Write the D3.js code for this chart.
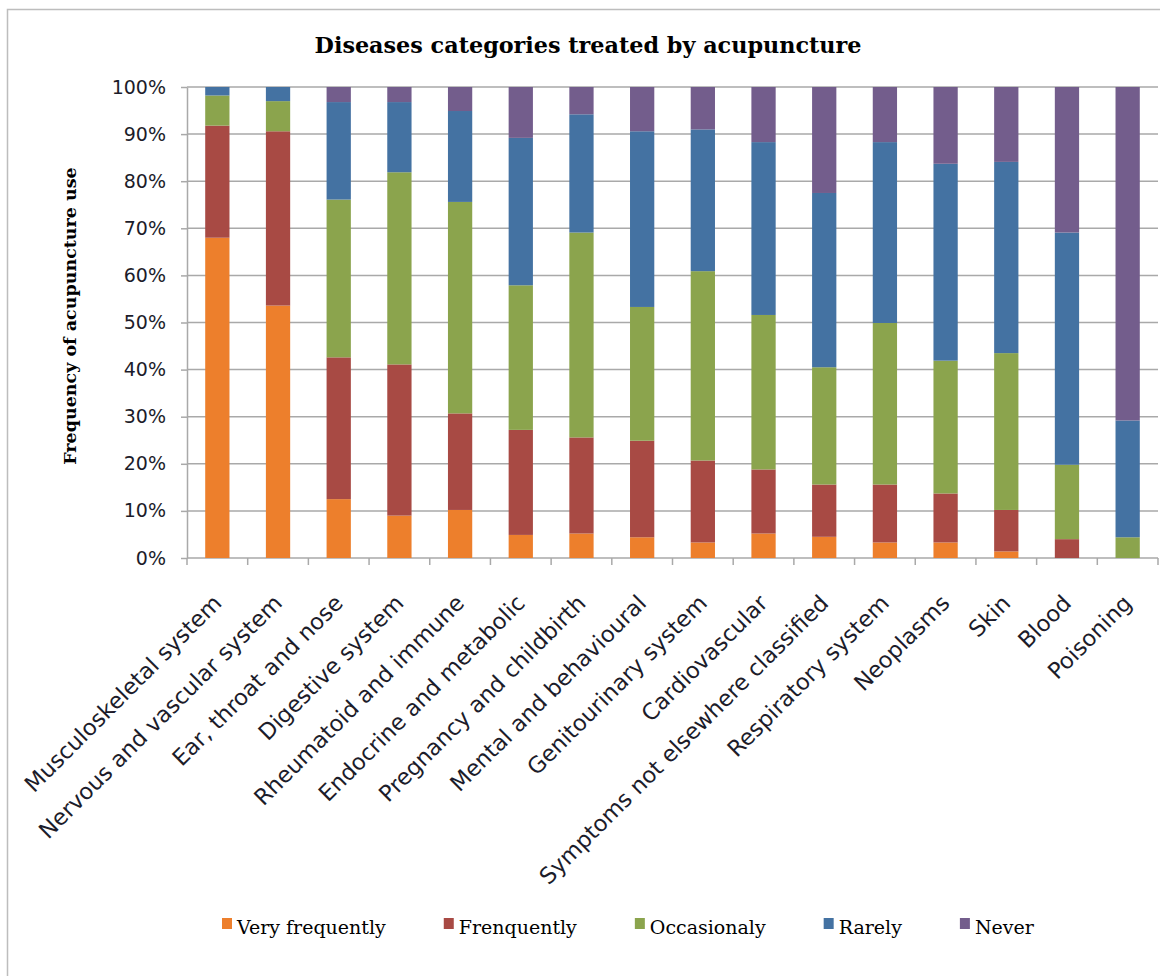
<!DOCTYPE html>
<html>
<head>
<meta charset="utf-8">
<script src="https://cdn.jsdelivr.net/npm/d3@7"></script>
<style>
  body { margin: 0; background: #fff; }
  svg { display: block; }
</style>
</head>
<body>
<div id="chart"></div>
<script>
var svgWidth = 1160;
var svgHeight = 976;

var margin = {
  top: 87,
  right: 2,
  bottom: 418,
  left: 187
};

var width = svgWidth - margin.left - margin.right;
var height = svgHeight - margin.top - margin.bottom;

// Data (percent of respondents per category)
var categories = [
  "Musculoskeletal system", "Nervous and vascular system", "Ear, throat and nose",
  "Digestive system", "Rheumatoid and immune", "Endocrine and metabolic",
  "Pregnancy and childbirth", "Mental and behavioural", "Genitourinary system",
  "Cardiovascular", "Symptoms not elsewhere classified", "Respiratory system",
  "Neoplasms", "Skin", "Blood", "Poisoning"
];
var seriesNames = ["Very frequently", "Frenquently", "Occasionaly", "Rarely", "Never"];
var veryFrequently = [68, 53.6, 12.5, 9, 10.2, 4.9, 5.2, 4.4, 3.3, 5.2, 4.5, 3.3, 3.3, 1.4, 0, 0];
var frequently     = [23.8, 37, 30.1, 32.1, 20.5, 22.3, 20.4, 20.5, 17.4, 13.6, 11.1, 12.3, 10.4, 8.8, 4, 0];
var occasionaly    = [6.4, 6.4, 33.5, 40.8, 44.9, 30.7, 43.5, 28.4, 40.2, 32.8, 24.9, 34.3, 28.2, 33.3, 15.8, 4.4];
var rarely         = [1.8, 3, 20.7, 14.9, 19.3, 31.3, 25.1, 37.3, 30.1, 36.7, 37, 38.4, 41.8, 40.6, 49.3, 24.8];
var never          = [0, 0, 3.2, 3.2, 5.1, 10.8, 5.8, 9.4, 9.0, 11.7, 22.5, 11.7, 16.3, 15.9, 30.9, 70.8];
var yTicks = [0, 10, 20, 30, 40, 50, 60, 70, 80, 90, 100];

var colors = ["#ED7F2C", "#A84A44", "#8BA44D", "#4472A2", "#735D8C"];

// rows for d3.stack
var seriesValues = [veryFrequently, frequently, occasionaly, rarely, never];
var rows = categories.map(function(c, i) {
  var row = { category: c };
  seriesNames.forEach(function(s, j) { row[s] = seriesValues[j][i]; });
  return row;
});

var svg = d3.select("#chart")
  .append("svg")
  .attr("width", svgWidth)
  .attr("height", svgHeight);

// outer chart frame
svg.append("rect")
  .attr("x", 7.5)
  .attr("y", 9.5)
  .attr("width", 1200)
  .attr("height", 1000)
  .attr("fill", "none")
  .attr("stroke", "#bdbdbd")
  .attr("stroke-width", 1.5);

var chartGroup = svg.append("g")
  .attr("transform", `translate(${margin.left}, ${margin.top})`);

// Scales
var xScale = d3.scaleBand()
  .domain(categories)
  .range([0, width])
  .paddingInner(0.6)
  .paddingOuter(0.3);

var yScale = d3.scaleLinear()
  .domain([0, 100])
  .range([height, 0]);

// Gridlines
chartGroup.append("g")
  .selectAll("line")
  .data(yTicks)
  .enter()
  .append("line")
  .attr("x1", 0)
  .attr("x2", width)
  .attr("y1", d => yScale(d))
  .attr("y2", d => yScale(d))
  .attr("stroke", "#a9a9a9")
  .attr("stroke-width", 1.5);

// Bars
var stack = d3.stack().keys(seriesNames);
var stacked = stack(rows);

chartGroup.selectAll(".series")
  .data(stacked)
  .enter()
  .append("g")
  .attr("class", "series")
  .attr("fill", (d, i) => colors[i])
  .selectAll("rect")
  .data(d => d)
  .enter()
  .append("rect")
  .attr("x", d => xScale(d.data.category))
  .attr("width", xScale.bandwidth())
  .attr("y", d => yScale(d[1]))
  .attr("height", d => yScale(d[0]) - yScale(d[1]));

// Y axis
var yAxis = d3.axisLeft(yScale)
  .tickValues(yTicks)
  .tickFormat(d => d + "%")
  .tickSize(6)
  .tickSizeOuter(0)
  .tickPadding(15);

var yAxisG = chartGroup.append("g").call(yAxis);
yAxisG.select(".domain").attr("stroke", "#a9a9a9").attr("stroke-width", 1.5);
yAxisG.selectAll(".tick line").attr("stroke", "#a9a9a9").attr("stroke-width", 1.5);
yAxisG.selectAll(".tick text")
  .attr("font-family", "DejaVu Sans, Verdana, sans-serif")
  .attr("font-size", 19)
  .attr("fill", "#1c1c2a");

// X axis: ticks between the categories, rotated labels
var step = xScale.step();
var boundaries = categories.map(c => xScale(c) + xScale.bandwidth() / 2 - step / 2);
boundaries.push(width);

chartGroup.append("g")
  .selectAll("line")
  .data(boundaries)
  .enter()
  .append("line")
  .attr("x1", d => d)
  .attr("x2", d => d)
  .attr("y1", height)
  .attr("y2", height + 7)
  .attr("stroke", "#a9a9a9")
  .attr("stroke-width", 1.5);

chartGroup.append("g")
  .selectAll("text")
  .data(categories)
  .enter()
  .append("text")
  .attr("transform", d => `translate(${xScale(d) + xScale.bandwidth() / 2}, ${height + 41}) rotate(-45)`)
  .attr("text-anchor", "end")
  .attr("dy", "0.35em")
  .attr("font-family", "DejaVu Sans, Verdana, sans-serif")
  .attr("font-size", 22.5)
  .attr("fill", "#1c1c2a")
  .text(d => d);

// Title
svg.append("text")
  .attr("x", 588)
  .attr("y", 53)
  .attr("text-anchor", "middle")
  .attr("font-family", "DejaVu Serif, serif")
  .attr("font-weight", "bold")
  .attr("font-size", 22.3)
  .attr("fill", "#000")
  .text("Diseases categories treated by acupuncture");

// Y axis label
svg.append("text")
  .attr("transform", "translate(70, 316) rotate(-90)")
  .attr("text-anchor", "middle")
  .attr("dy", "0.35em")
  .attr("font-family", "DejaVu Serif, serif")
  .attr("font-weight", "bold")
  .attr("font-size", 17.5)
  .attr("fill", "#000")
  .text("Frequency of acupuncture use");

// Legend
var legend = svg.append("g").attr("transform", "translate(222, 0)");
var legendX = 0;
seriesNames.forEach(function(name, i) {
  var item = legend.append("g").attr("transform", `translate(${legendX}, 0)`);
  item.append("rect")
    .attr("x", 0)
    .attr("y", 918)
    .attr("width", 10)
    .attr("height", 11)
    .attr("fill", colors[i]);
  var t = item.append("text")
    .attr("x", 15)
    .attr("y", 934)
    .attr("font-family", "DejaVu Serif, serif")
    .attr("font-size", 19)
    .attr("fill", "#000")
    .text(name);
  legendX += 15 + t.node().getComputedTextLength() + 58;
});
</script>
</body>
</html>
